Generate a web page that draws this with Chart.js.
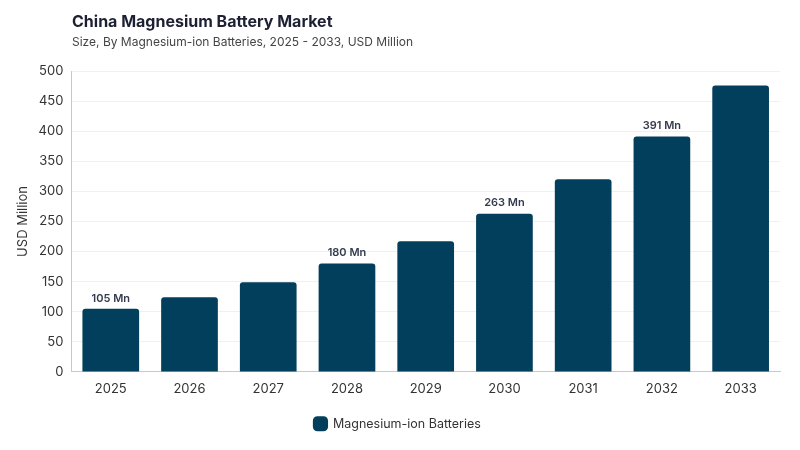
<!DOCTYPE html>
<html>
<head>
<meta charset="utf-8">
<script src="https://cdn.jsdelivr.net/npm/chart.js@4/dist/chart.umd.min.js"></script>
<style>
  html, body { margin: 0; padding: 0; background: #fff; }
  #wrap { position: relative; width: 800px; height: 450px; font-family: Inter, "Noto Sans", sans-serif; }
  #title { position: absolute; left: 72px; top: 11px; font-size: 16px; font-weight: 700; color: #1d1f33; }
  #subtitle { position: absolute; left: 72px; top: 34px; font-size: 12px; color: #444; }
  canvas { position: absolute; left: 0; top: 0; }
</style>
</head>
<body>
<div id="wrap">
  <canvas id="marketChart" width="800" height="450"></canvas>
  <div id="title">China Magnesium Battery Market</div>
  <div id="subtitle">Size, By Magnesium-ion Batteries, 2025 - 2033, USD Million</div>
</div>
<script>
// 数据
const years = ['2025', '2026', '2027', '2028', '2029', '2030', '2031', '2032', '2033'];
const values = [105, 124, 149, 180, 217, 263, 320, 391, 476];
const showLabel = [true, false, false, true, false, true, false, true, false];
const seriesName = 'Magnesium-ion Batteries';

// 柱顶标签
const barLabels = {
    id: 'barLabels',
    afterDatasetsDraw(chart) {
        const ctx = chart.ctx;
        const meta = chart.getDatasetMeta(0);
        ctx.save();
        ctx.font = '600 11px Inter, "Noto Sans", sans-serif';
        ctx.fillStyle = '#333a4d';
        ctx.textAlign = 'center';
        ctx.textBaseline = 'bottom';
        meta.data.forEach((bar, i) => {
            if (showLabel[i]) {
                ctx.fillText(values[i] + ' Mn', bar.x, bar.y - 5);
            }
        });
        ctx.restore();
    }
};

const ctx = document.getElementById('marketChart').getContext('2d');
const marketChart = new Chart(ctx, {
    type: 'bar',
    data: {
        labels: years,
        datasets: [{
            label: seriesName,
            data: values,
            backgroundColor: '#023f5c',
            borderRadius: 3,
            borderSkipped: 'bottom',
            barPercentage: 0.8,
            categoryPercentage: 0.9
        }]
    },
    options: {
        responsive: false,
        animation: false,
        layout: {
            padding: { top: 71, right: 20, left: 15, bottom: 10 }
        },
        plugins: {
            legend: {
                position: 'bottom',
                labels: {
                    usePointStyle: true,
                    pointStyle: 'rectRounded',
                    boxWidth: 14,
                    boxHeight: 14,
                    padding: 16,
                    color: '#333',
                    font: { family: 'Inter, "Noto Sans", sans-serif', size: 12.5 }
                }
            },
            tooltip: { enabled: false }
        },
        scales: {
            y: {
                min: 0,
                max: 500,
                ticks: {
                    stepSize: 50,
                    color: '#333',
                    padding: 8,
                    font: { family: 'Inter, "Noto Sans", sans-serif', size: 13 }
                },
                title: {
                    display: true,
                    text: 'USD Million',
                    color: '#333',
                    padding: 0,
                    font: { family: 'Inter, "Noto Sans", sans-serif', size: 13 }
                },
                grid: { color: '#f0f0f0', drawTicks: false },
                border: { color: '#c8c8c8' }
            },
            x: {
                ticks: {
                    color: '#333',
                    padding: 1,
                    font: { family: 'Inter, "Noto Sans", sans-serif', size: 13 }
                },
                afterFit(scale) {
                    scale.height += 4;
                },
                grid: { display: false },
                border: { color: '#c8c8c8' }
            }
        }
    },
    plugins: [barLabels]
});
</script>
</body>
</html>
